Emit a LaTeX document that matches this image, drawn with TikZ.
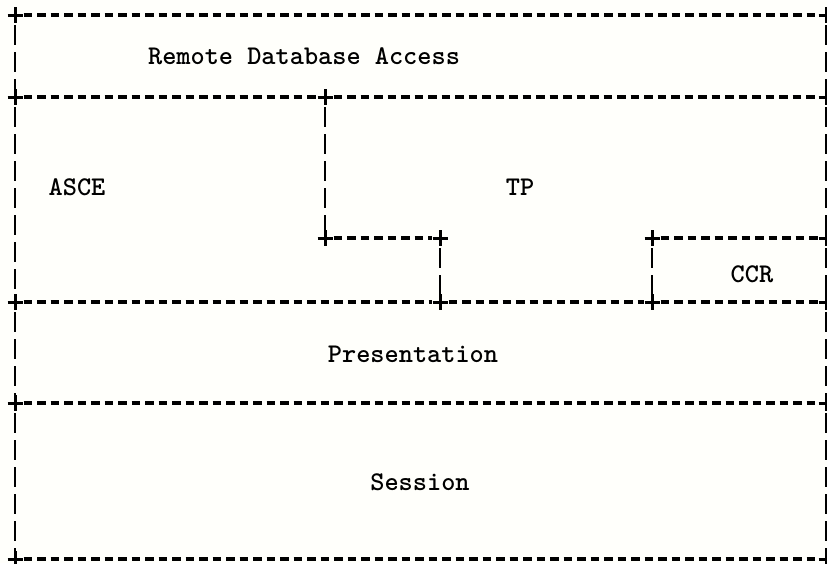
\documentclass[tikz,border=0pt]{standalone}
\usepackage{fontspec}
\begin{document}
\begin{tikzpicture}[x=1pt,y=-1pt,
  hline/.style={line width=3.2pt,dash pattern=on 8.5pt off 5pt,shorten <=8.5pt,shorten >=8pt},
  vline/.style={line width=2.8pt,dash pattern=on 20pt off 7pt,shorten <=10pt,shorten >=8pt},
  lbl/.style={font=\ttfamily\bfseries\fontsize{27}{27}\selectfont,inner sep=0pt},
  crossmark/.pic={\draw[line width=3pt] (-7.5,0) -- (7.5,0) (0,-8) -- (0,8);}]
\useasboundingbox (0,0) rectangle (827,563);
\fill[white!97!yellow!50] (0,0) rectangle (827,563);
% corner coordinates
\coordinate (tl) at (15,15);   \coordinate (tr) at (826,15);
\coordinate (al) at (15,97);   \coordinate (am) at (325,97);  \coordinate (ar) at (826,97);
\coordinate (ma) at (325,238); \coordinate (mb) at (440,238);
\coordinate (ca) at (652,238); \coordinate (cr) at (826,238);
\coordinate (bl) at (15,302);  \coordinate (bm) at (440,302); \coordinate (bc) at (652,302); \coordinate (br) at (826,302);
\coordinate (pl) at (15,403);  \coordinate (pr) at (826,403);
\coordinate (sl) at (15,559);  \coordinate (sr) at (826,559);
% pluses
\foreach \c in {tl,tr,al,am,ar,ma,mb,ca,cr,bl,bm,bc,br,pl,pr,sl,sr} \pic at (\c) {crossmark};
% horizontal lines
\draw[hline] (tl) -- (tr);
\draw[hline] (al) -- (am); \draw[hline] (am) -- (ar);
\draw[hline] (ma) -- (mb);
\draw[hline] (ca) -- (cr);
\draw[hline] (bl) -- (bm); \draw[hline] (bm) -- (bc); \draw[hline] (bc) -- (br);
\draw[hline] (pl) -- (pr);
\draw[hline] (sl) -- (sr);
% vertical lines
\foreach \a/\b in {tl/al,al/bl,bl/pl,pl/sl,tr/ar,ar/cr,cr/br,br/pr,pr/sr,am/ma,mb/bm,ca/bc}
  \draw[vline] (\a) -- (\b);
% labels
\node[lbl] (rda) at (304,56) {Remote Database Access};
\node[lbl] (asce) at (77,187) {ASCE};
\node[lbl] (tp) at (520,187) {TP};
\node[lbl] (ccr) at (752,274) {CCR};
\node[lbl] (pres) at (413,354) {Presentation};
\node[lbl] (sess) at (420,482) {Session};
\end{tikzpicture}
\end{document}
